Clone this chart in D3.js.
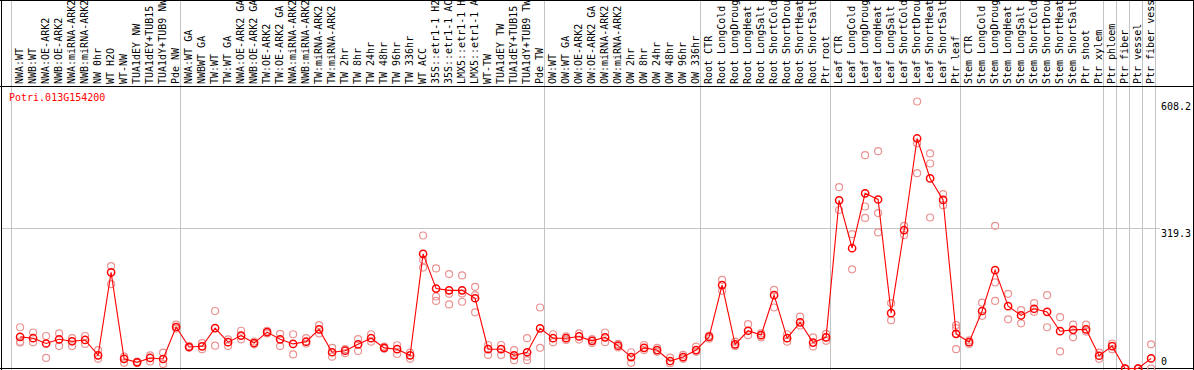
<!DOCTYPE html>
<html lang="en">
  <head>
    <meta charset="UTF-8" />
    <title>Potri.013G154200</title>
    <style>
      body {
        margin: 0;
        background: #ffffff;
      }
      svg {
        display: block;
        font-family: "DejaVu Sans Mono", monospace;
      }
    </style>
    <script src="https://d3js.org/d3.v7.min.js"></script>
  </head>
  <body>
    <svg id="chart"></svg>
    <script>
      const geneName = "Potri.013G154200";

      const samples = [
        "NWA:WT", "NWB:WT", "NWA:OE-ARK2", "NWB:OE-ARK2", "NWA:miRNA-ARK2",
        "NWB:miRNA-ARK2", "NW 0hr", "WT H2O", "WT-NW", "TUA1dEY NW",
        "TUA1dEY+TUB15 NW", "TUA1dY+TUB9 NW", "Pde NW",
        "NWA:WT GA", "NWBWT GA", "TW:WT", "TW:WT GA", "NWA:OE-ARK2 GA",
        "NWB:OE-ARK2 GA", "TW:OE-ARK2", "TW:OE-ARK2 GA", "NWA:miRNA-ARK2 GA",
        "NWB:miRNA-ARK2 GA", "TW:miRNA-ARK2", "TW:miRNA-ARK2 GA", "TW 2hr",
        "TW 8hr", "TW 24hr", "TW 48hr", "TW 96hr", "TW 336hr", "WT ACC",
        "35S::etr1-1 H2O", "35S::etr1-1 ACC", "LMX5::etr1-1 H2O",
        "LMX5::etr1-1 ACC", "WT-TW", "TUA1dEY TW", "TUA1dEY+TUB15 TW",
        "TUA1dY+TUB9 TW", "Pde TW",
        "OW:WT", "OW:WT GA", "OW:OE-ARK2", "OW:OE-ARK2 GA", "OW:miRNA-ARK2",
        "OW:miRNA-ARK2 GA", "OW 2hr", "OW 8hr", "OW 24hr", "OW 48hr",
        "OW 96hr", "OW 336hr",
        "Root CTR", "Root LongCold", "Root LongDrought", "Root LongHeat",
        "Root LongSalt", "Root ShortCold", "Root ShortDrought",
        "Root ShortHeat", "Root ShortSalt", "Ptr root",
        "Leaf CTR", "Leaf LongCold", "Leaf LongDrought", "Leaf LongHeat",
        "Leaf LongSalt", "Leaf ShortCold", "Leaf ShortDrought",
        "Leaf ShortHeat", "Leaf ShortSalt", "Ptr leaf",
        "Stem CTR", "Stem LongCold", "Stem LongDrought", "Stem LongHeat",
        "Stem LongSalt", "Stem ShortCold", "Stem ShortDrought",
        "Stem ShortHeat", "Stem ShortSalt", "Ptr shoot", "Ptr xylem",
        "Ptr phloem", "Ptr fiber", "Ptr vessel", "Ptr fiber vessel",
      ];

      // index where each sample group starts (plus the end)
      const groupBreaks = [0, 13, 41, 53, 63, 73, 84, 85, 86, 87, 88];

      const means = [
        72, 69, 57, 66.5, 62, 65, 30, 219, 22, 14, 24, 21.6, 94.5,
        49, 50.5, 92, 60, 75, 58, 83, 66.5, 56, 61, 89, 37, 40.5, 55, 69,
        47, 44, 30, 261, 182, 178, 178, 160, 44, 44, 30, 37, 91.5,
        69, 69, 73, 63, 71, 52, 26, 47, 42, 17, 26, 42,
        72, 190, 55, 86, 76, 167, 69, 105, 59, 71,
        383, 274, 399, 385, 126, 315, 524, 433, 384, 79,
        60, 131, 224, 142, 121, 136, 129, 85, 88, 89, 29,
        51, 0, 0, 23,
      ];

      const replicates = [
        [94, 61, 59], [82, 60], [74, 24], [80, 51], [69, 51], [74, 56],
        [42, 22], [233, 192], [27, 13], [15.5, 12.5], [30, 16], [36, 10],
        [100, 91],
        [51, 47], [58, 44], [131, 52], [66.5, 51], [86, 66.5], [61.5, 55],
        [86, 80], [79, 51], [78, 32], [69, 57], [99, 80], [47, 27],
        [44, 35], [67, 40], [78, 61], [50, 45], [53, 33], [36, 22],
        [303, 247, 230], [228, 164, 154], [215, 170, 146], [212, 171, 152],
        [186, 167, 128], [53.5, 31], [53.5, 31], [42, 19], [69, 27, 19],
        [139, 47],
        [78, 60], [73, 65], [80, 66], [67, 58], [82, 60], [56, 48],
        [37, 13], [53.5, 42], [47, 38], [25, 12], [31, 22], [50, 38],
        [75, 68], [202, 177], [61, 51], [101, 76], [80, 71], [179, 139],
        [78, 61], [118, 98], [71, 50], [79, 63],
        [413, 361], [306, 226], [486, 369, 343], [495, 354, 310],
        [149, 110], [325, 304], [608.2, 513, 445], [490, 467, 344],
        [397, 372], [99, 92, 44],
        [64, 56], [150, 120], [325, 196, 154], [170, 112], [133, 103],
        [149, 129], [167, 94], [117, 39], [100, 71], [100, 84], [36, 22],
        [57, 44], [0, 0], [0, 0], [55, 0],
      ];

      const yTicks = [608.2, 319.3, 0];

      const width = 1194;
      const height = 370;
      const labelBottom = 86;
      const plotRight = 1155;

      const svg = d3
        .select("#chart")
        .attr("width", width)
        .attr("height", height);

      const x = d3
        .scaleLinear()
        .domain([0, samples.length])
        .range([11, plotRight]);
      const colW = x(1) - x(0);
      const cx = (i) => x(i) + colW * 0.7;

      const y = d3.scaleLinear().domain([0, 608.2]).range([368.5, 101.5]);

      // group separators, full height
      svg
        .append("g")
        .selectAll("line")
        .data(groupBreaks)
        .join("line")
        .attr("x1", (d) => x(d))
        .attr("x2", (d) => x(d))
        .attr("y1", 0)
        .attr("y2", height)
        .attr("stroke", "#c4c4c4")
        .attr("stroke-width", 1)
        .attr("shape-rendering", "crispEdges");

      // middle gridline
      svg
        .append("line")
        .attr("x1", 1)
        .attr("x2", 1160)
        .attr("y1", Math.round(y(yTicks[1])) + 0.5)
        .attr("y2", Math.round(y(yTicks[1])) + 0.5)
        .attr("stroke", "#c4c4c4")
        .attr("stroke-width", 1);

      // sample labels, rotated
      svg
        .append("g")
        .selectAll("text")
        .data(samples)
        .join("text")
        .attr(
          "transform",
          (d, i) => `translate(${cx(i) + 2.5},${labelBottom - 2}) rotate(-90)`
        )
        .attr("font-size", 10)
        .attr("fill", "#000")
        .text((d) => d);

      // frame lines
      const frame = svg.append("g").attr("stroke", "#000").attr("shape-rendering", "crispEdges");
      frame.append("line").attr("x1", 0).attr("x2", width).attr("y1", 0.5).attr("y2", 0.5);
      frame.append("line").attr("x1", 0).attr("x2", width).attr("y1", labelBottom + 0.5).attr("y2", labelBottom + 0.5);
      frame.append("line").attr("x1", 0).attr("x2", width).attr("y1", height - 1.5).attr("y2", height - 1.5);
      frame.append("line").attr("x1", 1.5).attr("x2", 1.5).attr("y1", 0).attr("y2", height);
      frame.append("line").attr("x1", width - 0.5).attr("x2", width - 0.5).attr("y1", 0).attr("y2", height);

      // axis labels on right
      svg
        .append("g")
        .selectAll("text")
        .data(yTicks)
        .join("text")
        .attr("x", 1161)
        .attr("y", (d) => (d === 0 ? y(d) - 4 : y(d) + 1))
        .attr("dominant-baseline", (d) => (d === 0 ? "auto" : "hanging"))
        .attr("font-size", 10)
        .attr("fill", "#000")
        .text((d) => (d === 0 ? "0" : d.toFixed(1)));

      // gene name
      svg
        .append("text")
        .attr("x", 9)
        .attr("y", 100.5)
        .attr("font-size", 10)
        .attr("fill", "#ff0000")
        .text(geneName);

      // replicate points
      const repPts = replicates.flatMap((reps, i) =>
        reps.map((v) => ({ i, v }))
      );
      svg
        .append("g")
        .selectAll("circle")
        .data(repPts)
        .join("circle")
        .attr("cx", (d) => cx(d.i))
        .attr("cy", (d) => y(d.v))
        .attr("r", 3.5)
        .attr("fill", "none")
        .attr("stroke", "#eb9393")
        .attr("stroke-width", 1.2);

      // mean line
      const line = d3
        .line()
        .x((d, i) => cx(i))
        .y((d) => y(d));
      svg
        .append("path")
        .datum(means)
        .attr("d", line)
        .attr("fill", "none")
        .attr("stroke", "#ff0000")
        .attr("stroke-width", 1.1);

      svg
        .append("g")
        .selectAll("circle")
        .data(means)
        .join("circle")
        .attr("cx", (d, i) => cx(i))
        .attr("cy", (d) => y(d))
        .attr("r", 3.6)
        .attr("fill", "none")
        .attr("stroke", "#ff0000")
        .attr("stroke-width", 1.5);
    </script>
  </body>
</html>
